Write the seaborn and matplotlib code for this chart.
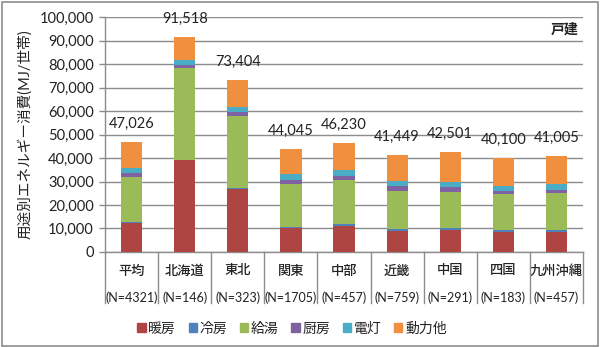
import matplotlib
matplotlib.use("Agg")
import matplotlib.pyplot as plt
import matplotlib.patches as mpatches
from matplotlib.ticker import FuncFormatter, MultipleLocator
import numpy as np
import pandas as pd
import seaborn as sns

regions = ["平均", "北海道", "東北", "関東", "中部", "近畿", "中国", "四国", "九州沖縄"]
n_labels = ["(N=4321)", "(N=146)", "(N=323)", "(N=1705)", "(N=457)", "(N=759)", "(N=291)", "(N=183)", "(N=457)"]
totals = [47026, 91518, 73404, 44045, 46230, 41449, 42501, 40100, 41005]

uses = ["暖房", "冷房", "給湯", "厨房", "電灯", "動力他"]
heating = [12200, 39100, 27000, 10000, 11000, 9000, 9300, 8500, 8300]
cooling = [600, 100, 200, 800, 900, 600, 700, 800, 1000]
hotwater = [19200, 39000, 30700, 18100, 18900, 16400, 15600, 15200, 15600]
kitchen = [1700, 1400, 1800, 1700, 1500, 2000, 1900, 1500, 1700]
lighting = [1900, 2200, 2200, 2400, 2500, 2300, 2100, 2200, 2300]
# 動力他 = remainder up to the labelled total
others = [t - (a + b + c + d + e) for t, a, b, c, d, e in
          zip(totals, heating, cooling, hotwater, kitchen, lighting)]

colors = ["#AE4542", "#4F81BD", "#9BBB59", "#7E62A1", "#4BACC6", "#F0903E"]

plt.rcParams['font.family'] = ['Lato', 'Noto Sans CJK JP', 'DejaVu Sans']
text_color = "#222222"
grid_color = "#8C8C8C"

fig = plt.figure(figsize=(6, 3.47), dpi=100)
ax = fig.add_axes([0.175, 0.2738, 0.7967, 0.677])

layers = [heating, cooling, hotwater, kitchen, lighting, others]
cum = np.cumsum(np.array(layers), axis=0)

# draw cumulative bars from the top layer down so each lower layer overlays
for i in range(len(uses) - 1, -1, -1):
    df = pd.DataFrame({"region": regions, "value": cum[i]})
    sns.barplot(data=df, x="region", y="value", order=regions, color=colors[i],
                width=0.4, ax=ax, saturation=1, linewidth=0, zorder=3)

ax.set_ylim(0, 100000)
ax.set_xlim(-0.5, len(regions) - 0.5)
ax.yaxis.set_major_locator(MultipleLocator(10000))
ax.yaxis.set_major_formatter(FuncFormatter(lambda v, p: f"{int(v):,}"))
ax.grid(axis="y", color=grid_color, linewidth=1, zorder=0)
ax.set_axisbelow(True)

for s in ["top", "right"]:
    ax.spines[s].set_visible(False)
for s in ["left", "bottom"]:
    ax.spines[s].set_color(grid_color)
    ax.spines[s].set_linewidth(1)

ax.tick_params(axis="y", length=4, width=1, color=grid_color, labelsize=10.5,
               labelcolor=text_color, pad=4)
ax.tick_params(axis="x", length=0, labelsize=9.5, labelcolor=text_color, pad=9)
for lab in ax.get_xticklabels():
    lab.set_fontweight("medium")
ax.set_xlabel("")
ax.set_ylabel("用途別エネルギー消費(MJ/世帯)", fontsize=10.5, color=text_color, labelpad=5)

# N labels and separators
for i, lab in enumerate(n_labels):
    ax.text(i, -0.195, lab, transform=ax.get_xaxis_transform(), ha="center",
            va="center", fontsize=9, color=text_color)
for b in np.arange(-0.5, len(regions), 1.0):
    ax.plot([b, b], [0, -0.217], transform=ax.get_xaxis_transform(),
            color=grid_color, linewidth=1, clip_on=False)

# totals above bars
for i, t in enumerate(totals):
    ax.annotate(f"{t:,}", (i, t), xytext=(0, 13), textcoords="offset points",
                ha="center", va="center", fontsize=10.5, color=text_color)

ax.text(0.99, 0.949, "戸建", transform=ax.transAxes, ha="right", va="center",
        fontsize=10, fontweight="bold", color=text_color)

handles = [mpatches.Patch(color=c, label=u) for c, u in zip(colors, uses)]
fig.legend(handles=handles, loc="center", bbox_to_anchor=(292 / 600, 1 - 328 / 347),
           ncol=6, frameon=False, fontsize=10, handlelength=0.6, handleheight=0.6,
           handletextpad=0.2, columnspacing=0.9, labelcolor=text_color)

border = mpatches.Rectangle((0.003, 0.004), 0.993, 0.99, transform=fig.transFigure,
                            fill=False, edgecolor="#8C8C8C", linewidth=1.2)
fig.patches.append(border)

fig.savefig("out.png", dpi=100)
